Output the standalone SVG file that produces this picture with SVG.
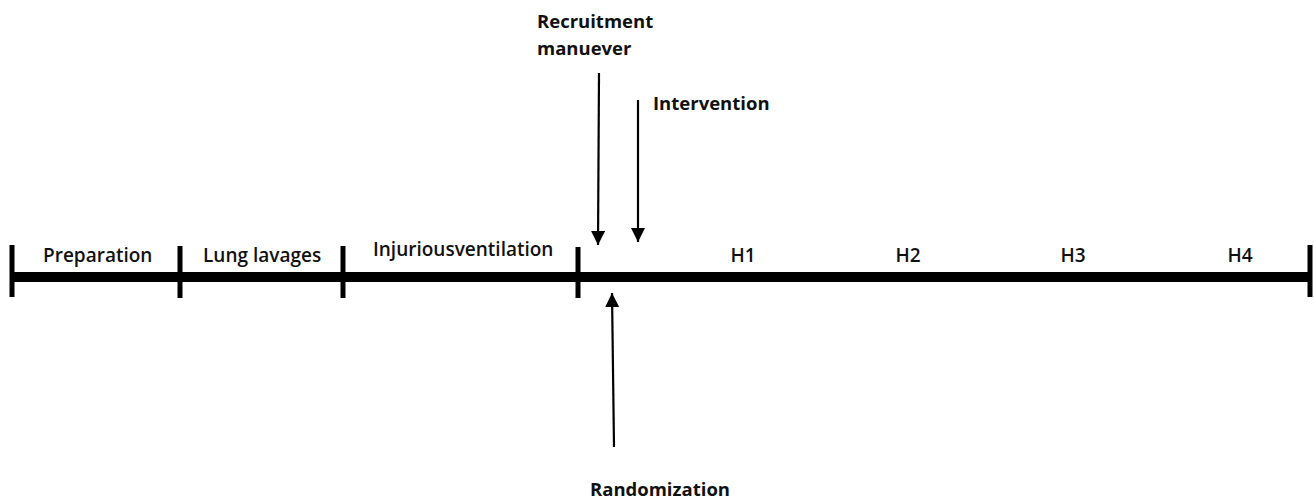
<svg xmlns="http://www.w3.org/2000/svg" width="1314" height="502" viewBox="0 0 1314 502">
<style>
.lbl{font-family:"Open Sans","Liberation Sans",sans-serif;font-size:19px;font-weight:600;fill:#111}
.ev{font-family:"Open Sans","Liberation Sans",sans-serif;font-size:18.5px;font-weight:700;fill:#111}
.tick{stroke:#000;stroke-width:5}
.axis{stroke:#000;stroke-width:10}
.arr{stroke:#000;stroke-width:2.2;fill:none;marker-end:url(#ah)}
</style>
<defs>
<marker id="ah" markerUnits="userSpaceOnUse" markerWidth="15" markerHeight="15" refX="14" refY="7" orient="auto">
<path d="M0,0 L14,7 L0,14 z" fill="#000"/>
</marker>
</defs>
<g id="timeline">
<line class="axis" x1="12" y1="277" x2="1310" y2="277"/>
<line class="tick" x1="12" y1="245" x2="12" y2="297"/>
<line class="tick" x1="180" y1="246" x2="180" y2="298"/>
<line class="tick" x1="343" y1="246" x2="343" y2="298"/>
<line class="tick" x1="578" y1="247" x2="578" y2="298"/>
<line class="tick" x1="1310" y1="245" x2="1310" y2="297"/>
</g>
<g id="preparation"><text class="lbl" x="43" y="262">Preparation</text></g>
<g id="lung-lavages"><text class="lbl" x="203" y="262">Lung lavages</text></g>
<g id="injurious-ventilation"><text class="lbl" x="373" y="256">Injuriousventilation</text></g>
<g id="h1"><text class="lbl" x="743" y="262" text-anchor="middle">H1</text></g>
<g id="h2"><text class="lbl" x="908" y="262" text-anchor="middle">H2</text></g>
<g id="h3"><text class="lbl" x="1073" y="262" text-anchor="middle">H3</text></g>
<g id="h4"><text class="lbl" x="1240" y="262" text-anchor="middle">H4</text></g>
<g id="recruitment-maneuver">
<text class="ev" x="537" y="28">Recruitment</text>
<text class="ev" x="537" y="55">manuever</text>
</g>
<g id="intervention"><text class="ev" x="653" y="110">Intervention</text></g>
<g id="randomization"><text class="ev" x="590" y="496">Randomization</text></g>
<g id="connectors">
<line class="arr" x1="599" y1="73" x2="598" y2="245"/>
<line class="arr" x1="638" y1="100" x2="638" y2="242"/>
<line class="arr" x1="614" y1="447" x2="612" y2="293"/>
</g>
</svg>
